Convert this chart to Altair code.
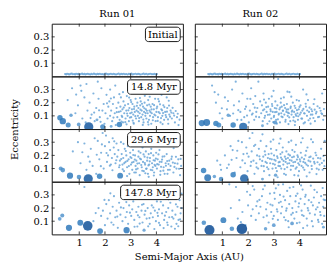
import altair as alt
import pandas as pd

FONT = "DejaVu Serif"
INK = "#1a1a1a"

RUNS = ["Run 01", "Run 02"]
TIMES = ["Initial", "14.8 Myr", "29.6 Myr", "147.8 Myr"]
X_TICKS = [1, 2, 3, 4]
Y_TICKS = [0.1, 0.2, 0.3]
SMALL_MASS = 0.02

# initial ring of planetesimals (semi-major axis, eccentricity)
INIT_A = [0.45, 0.49, 0.53, 0.58, 0.62, 0.66, 0.71, 0.75, 0.8, 0.84, 0.88, 0.93, 0.97, 1.02, 1.06,
          1.11, 1.15, 1.2, 1.24, 1.29, 1.33, 1.38, 1.43, 1.47, 1.52, 1.57, 1.61, 1.66, 1.71, 1.75,
          1.8, 1.85, 1.9, 1.94, 1.99, 2.04, 2.09, 2.14, 2.18, 2.23, 2.28, 2.33, 2.38, 2.43, 2.48,
          2.53, 2.58, 2.63, 2.68, 2.73, 2.78, 2.83, 2.88, 2.93, 2.98, 3.03, 3.08, 3.13, 3.19, 3.24,
          3.29, 3.34, 3.39, 3.45, 3.5, 3.55, 3.6, 3.66, 3.71, 3.76, 3.82, 3.87, 3.92, 3.97, 4.02]
INIT_E = [0.018, 0.015, 0.020, 0.017, 0.014, 0.019, 0.021, 0.016, 0.018, 0.015, 0.02, 0.017, 0.019,
          0.014, 0.018, 0.021, 0.016, 0.019, 0.015, 0.018, 0.02, 0.017, 0.014, 0.019, 0.016, 0.021,
          0.018, 0.015, 0.019, 0.017, 0.02, 0.016, 0.018, 0.014, 0.019, 0.021, 0.017, 0.015, 0.018,
          0.02, 0.016, 0.019, 0.017, 0.014, 0.018, 0.021, 0.015, 0.019, 0.017, 0.02, 0.016, 0.018,
          0.014, 0.019, 0.017, 0.021, 0.015, 0.018, 0.02, 0.016, 0.019, 0.017, 0.014, 0.018, 0.021,
          0.016, 0.019, 0.015, 0.018, 0.02, 0.017, 0.016, 0.019, 0.015, 0.018]

# small bodies (a, e)
R1_T15 = [(0.55,0.22),(0.72,0.31),(0.85,0.12),(0.95,0.18),(1.05,0.33),(1.08,0.29),(1.12,0.08),(1.2,0.24),
          (1.25,0.05),(1.32,0.14),(1.4,0.2),(1.48,0.11),(1.55,0.27),(1.6,0.06),(1.66,0.16),(1.72,0.36),
          (1.75,0.23),(1.8,0.09),(1.86,0.31),(1.9,0.14),(1.95,0.19),(1.98,0.04),(2.02,0.12),(2.06,0.26),
          (2.1,0.08),(2.13,0.17),(2.17,0.21),(2.2,0.1),(2.24,0.14),(2.28,0.06),(2.31,0.19),(2.35,0.24),
          (2.38,0.12),(2.42,0.03),(2.45,0.16),(2.48,0.09),(2.52,0.2),(2.54,0.13),(2.57,0.07),(2.6,0.17),
          (2.62,0.24),(2.65,0.1),(2.68,0.15),(2.7,0.05),(2.72,0.21),(2.75,0.12),(2.78,0.18),(2.8,0.08),
          (2.83,0.14),(2.85,0.25),(2.88,0.1),(2.9,0.19),(2.93,0.06),(2.95,0.16),(2.98,0.12),(3.0,0.22),
          (3.02,0.09),(3.05,0.15),(3.07,0.19),(3.1,0.11),(3.12,0.04),(3.14,0.17),(3.16,0.13),(3.19,0.23),
          (3.21,0.08),(3.23,0.14),(3.26,0.2),(3.28,0.1),(3.3,0.16),(3.32,0.06),(3.35,0.12),(3.37,0.18),
          (3.39,0.21),(3.41,0.09),(3.43,0.14),(3.46,0.11),(3.48,0.17),(3.5,0.05),(3.52,0.13),(3.54,0.2),
          (3.57,0.1),(3.59,0.15),(3.61,0.08),(3.64,0.18),(3.66,0.12),(3.68,0.22),(3.71,0.07),(3.73,0.14),
          (3.75,0.1),(3.78,0.17),(3.8,0.04),(3.82,0.12),(3.85,0.19),(3.87,0.09),(3.9,0.15),(3.92,0.11),
          (3.95,0.23),(3.97,0.06),(4.0,0.13),(4.03,0.17),(4.06,0.09),(4.1,0.21),(4.13,0.12),(4.16,0.05),
          (4.19,0.15),(4.23,0.1),(4.27,0.18),(4.3,0.07),(4.34,0.13),(4.38,0.09),(4.42,0.16),(4.46,0.04),
          (4.5,0.11),(4.55,0.14),(4.6,0.08),(4.66,0.12),(4.72,0.05),(4.8,0.09),(4.86,0.03),(2.4,0.33),
          (2.9,0.3),(3.3,0.28),(3.6,0.27),(4.2,0.26),(2.2,0.3),(3.9,0.3),(4.4,0.24),(2.7,0.28),
          (2.61,0.135),(2.67,0.092),(2.73,0.163),(2.79,0.052),(2.86,0.118),(2.91,0.142),(2.97,0.087),
          (3.04,0.125),(3.08,0.064),(3.13,0.152),(3.18,0.098),(3.24,0.176),(3.29,0.131),(3.33,0.083),
          (3.38,0.147),(3.44,0.192),(3.49,0.072),(3.53,0.158),(3.58,0.121),(3.63,0.139),(3.67,0.053),
          (3.72,0.186),(3.77,0.128),(3.81,0.149),(3.86,0.067),(3.91,0.181),(3.96,0.103),(4.01,0.157),
          (4.05,0.062),(4.09,0.129),(4.14,0.188),(4.18,0.083),(4.22,0.142),(4.26,0.121),(4.31,0.167),
          (4.36,0.106),(4.41,0.132),(4.45,0.073),(4.49,0.178),(4.53,0.094),(4.58,0.125),(4.63,0.161),
          (4.69,0.102),(4.75,0.137),(4.83,0.116),(4.9,0.071),(3.02,0.205),(3.36,0.236),(3.74,0.245),
          (4.07,0.228),(4.48,0.215),(2.56,0.265),(2.94,0.239),(3.55,0.252),(1.58,0.125),(1.83,0.055),
          (2.08,0.195),(2.33,0.087),(2.46,0.128),(2.23,0.232),(1.44,0.083),(1.77,0.142),(0.88,0.262),
          (1.28,0.342),(2.64,0.057),(3.11,0.047),(3.69,0.034),(4.24,0.038),(3.47,0.031),(2.84,0.036)]
R2_T15 = [(0.6,0.33),(0.7,0.28),(0.75,0.2),(0.9,0.12),(1.0,0.08),(1.1,0.24),(1.18,0.15),(1.3,0.1),
          (1.38,0.3),(1.45,0.18),(1.52,0.36),(1.58,0.07),(1.65,0.21),(1.7,0.13),(1.78,0.27),(1.85,0.09),
          (1.92,0.17),(1.97,0.23),(2.03,0.05),(2.07,0.14),(2.12,0.31),(2.15,0.11),(2.2,0.19),(2.24,0.07),
          (2.28,0.25),(2.32,0.13),(2.36,0.16),(2.4,0.36),(2.43,0.09),(2.47,0.21),(2.51,0.12),(2.54,0.18),
          (2.57,0.06),(2.6,0.27),(2.63,0.15),(2.66,0.1),(2.69,0.2),(2.72,0.13),(2.75,0.04),(2.78,0.17),
          (2.81,0.23),(2.84,0.11),(2.87,0.15),(2.9,0.08),(2.93,0.19),(2.96,0.13),(2.99,0.29),(3.01,0.1),
          (3.04,0.16),(3.06,0.21),(3.09,0.07),(3.11,0.13),(3.14,0.18),(3.17,0.38),(3.19,0.11),(3.22,0.15),
          (3.24,0.05),(3.27,0.2),(3.29,0.12),(3.31,0.17),(3.34,0.09),(3.36,0.14),(3.39,0.24),(3.41,0.11),
          (3.44,0.16),(3.46,0.07),(3.49,0.13),(3.51,0.19),(3.54,0.1),(3.56,0.15),(3.59,0.12),(3.61,0.28),
          (3.64,0.06),(3.66,0.17),(3.69,0.11),(3.72,0.14),(3.74,0.2),(3.77,0.09),(3.79,0.13),(3.82,0.03),
          (3.84,0.16),(3.87,0.1),(3.89,0.22),(3.92,0.12),(3.94,0.07),(3.97,0.15),(4.01,0.11),(4.04,0.18),
          (4.07,0.08),(4.11,0.14),(4.14,0.3),(4.18,0.12),(4.21,0.05),(4.25,0.17),(4.29,0.1),(4.33,0.22),
          (4.37,0.13),(4.41,0.08),(4.46,0.15),(4.5,0.11),(4.55,0.19),(4.6,0.06),(4.66,0.13),(4.72,0.09),
          (4.78,0.16),(4.85,0.12),(4.92,0.07),(4.88,0.27),
          (2.58,0.142),(2.64,0.085),(2.71,0.167),(2.77,0.108),(2.83,0.059),(2.88,0.136),(2.94,0.175),
          (3.0,0.091),(3.05,0.128),(3.1,0.156),(3.16,0.074),(3.2,0.118),(3.25,0.163),(3.3,0.095),
          (3.35,0.138),(3.4,0.181),(3.45,0.056),(3.5,0.147),(3.55,0.124),(3.6,0.089),(3.65,0.159),
          (3.7,0.132),(3.76,0.065),(3.81,0.176),(3.85,0.112),(3.9,0.143),(3.95,0.097),(4.0,0.168),
          (4.05,0.124),(4.1,0.079),(4.15,0.153),(4.2,0.118),(4.24,0.192),(4.3,0.141),(4.35,0.067),
          (4.39,0.162),(4.44,0.109),(4.49,0.135),(4.54,0.084),(4.59,0.147),(4.64,0.118),(4.7,0.173),
          (4.76,0.093),(4.82,0.139),(4.88,0.113),(4.95,0.152),(2.31,0.094),(2.26,0.162),(2.18,0.118),
          (2.09,0.229),(1.96,0.102),(1.88,0.152),(1.74,0.069),(1.62,0.143),(1.42,0.118),(1.22,0.213),
          (0.98,0.158),(0.84,0.262),(3.28,0.232),(3.68,0.246),(3.98,0.215),(4.58,0.226),(2.92,0.248),
          (3.53,0.284),(4.27,0.263),(2.62,0.224),(3.12,0.041),(3.57,0.038),(4.16,0.043),(2.98,0.052),
          (3.83,0.056),(4.43,0.041)]
R1_T30 = [(0.75,0.23),(0.95,0.3),(1.05,0.14),(1.2,0.29),(1.28,0.09),(1.35,0.19),(1.45,0.25),(1.52,0.12),
          (1.6,0.33),(1.66,0.06),(1.72,0.31),(1.78,0.17),(1.85,0.22),(1.91,0.37),(1.95,0.1),(2.0,0.27),
          (2.04,0.35),(2.08,0.15),(2.12,0.2),(2.16,0.3),(2.2,0.24),(2.23,0.13),(2.27,0.18),(2.3,0.33),
          (2.34,0.26),(2.38,0.21),(2.41,0.14),(2.45,0.29),(2.48,0.19),(2.52,0.24),(2.55,0.11),(2.58,0.16),
          (2.62,0.3),(2.65,0.21),(2.68,0.13),(2.71,0.18),(2.74,0.08),(2.77,0.25),(2.8,0.15),(2.83,0.2),
          (2.86,0.11),(2.89,0.27),(2.92,0.17),(2.95,0.06),(2.98,0.22),(3.01,0.13),(3.03,0.18),(3.06,0.09),
          (3.09,0.24),(3.11,0.15),(3.14,0.07),(3.17,0.2),(3.19,0.12),(3.22,0.16),(3.25,0.28),(3.27,0.1),
          (3.3,0.19),(3.33,0.14),(3.35,0.05),(3.38,0.22),(3.4,0.17),(3.43,0.11),(3.46,0.26),(3.48,0.15),
          (3.51,0.08),(3.54,0.19),(3.56,0.13),(3.59,0.23),(3.62,0.1),(3.64,0.16),(3.67,0.06),(3.7,0.21),
          (3.72,0.13),(3.75,0.18),(3.78,0.09),(3.8,0.25),(3.83,0.14),(3.86,0.11),(3.88,0.2),(3.91,0.07),
          (3.94,0.16),(3.96,0.12),(3.99,0.22),(4.02,0.1),(4.05,0.17),(4.09,0.13),(4.12,0.24),(4.16,0.08),
          (4.2,0.15),(4.24,0.19),(4.28,0.11),(4.32,0.06),(4.36,0.14),(4.4,0.21),(4.45,0.09),(4.5,0.16),
          (4.55,0.12),(4.6,0.19),(4.66,0.07),(4.72,0.14),(4.78,0.1),(4.85,0.17),(4.92,0.05),(4.96,0.12),
          (2.57,0.125),(2.63,0.172),(2.69,0.094),(2.75,0.141),(2.81,0.233),(2.87,0.158),(2.93,0.119),
          (2.99,0.187),(3.05,0.145),(3.1,0.203),(3.16,0.168),(3.21,0.094),(3.26,0.138),(3.31,0.231),
          (3.36,0.176),(3.41,0.127),(3.45,0.083),(3.5,0.207),(3.55,0.142),(3.6,0.098),(3.65,0.183),
          (3.69,0.124),(3.74,0.155),(3.79,0.217),(3.84,0.087),(3.89,0.163),(3.93,0.128),(3.98,0.176),
          (4.03,0.133),(4.08,0.207),(4.13,0.151),(4.18,0.113),(4.22,0.168),(4.27,0.084),(4.31,0.193),
          (4.37,0.121),(4.42,0.157),(4.47,0.134),(4.52,0.091),(4.58,0.172),(4.64,0.145),(4.7,0.112),
          (4.76,0.189),(4.82,0.137),(4.88,0.098),(4.94,0.173),(2.19,0.122),(2.29,0.087),(2.44,0.163),
          (2.06,0.218),(1.88,0.283),(1.68,0.205),(1.41,0.152),(1.12,0.224),(1.84,0.118),(2.36,0.307),
          (2.72,0.288),(3.08,0.303),(3.44,0.318),(3.87,0.286),(4.26,0.273),(4.67,0.254),(3.2,0.07),
          (3.57,0.064),(3.9,0.047),(4.15,0.052),(4.43,0.06),(2.86,0.043),(3.7,0.037)]
R2_T30 = [(0.8,0.16),(0.95,0.09),(1.1,0.2),(1.25,0.13),(1.32,0.27),(1.4,0.24),(1.48,0.07),(1.55,0.18),
          (1.62,0.31),(1.7,0.11),(1.76,0.3),(1.82,0.21),(1.88,0.14),(1.93,0.26),(1.98,0.08),(2.02,0.19),
          (2.06,0.33),(2.1,0.12),(2.14,0.23),(2.17,0.37),(2.21,0.16),(2.25,0.06),(2.28,0.28),(2.32,0.14),
          (2.35,0.2),(2.39,0.1),(2.42,0.25),(2.46,0.17),(2.49,0.31),(2.52,0.12),(2.56,0.36),(2.59,0.19),
          (2.62,0.08),(2.65,0.23),(2.68,0.15),(2.71,0.27),(2.74,0.11),(2.77,0.18),(2.8,0.21),(2.83,0.05),
          (2.86,0.14),(2.89,0.25),(2.92,0.17),(2.95,0.1),(2.98,0.32),(3.01,0.2),(3.04,0.13),(3.07,0.16),
          (3.1,0.24),(3.12,0.08),(3.15,0.18),(3.18,0.12),(3.21,0.29),(3.23,0.15),(3.26,0.21),(3.29,0.1),
          (3.32,0.17),(3.35,0.26),(3.37,0.13),(3.4,0.06),(3.43,0.19),(3.46,0.15),(3.49,0.23),(3.52,0.11),
          (3.55,0.18),(3.58,0.3),(3.6,0.14),(3.63,0.2),(3.66,0.09),(3.69,0.16),(3.72,0.24),(3.75,0.12),
          (3.78,0.19),(3.8,0.05),(3.83,0.15),(3.86,0.28),(3.89,0.11),(3.92,0.2),(3.95,0.14),(3.98,0.08),
          (4.01,0.17),(4.05,0.22),(4.08,0.12),(4.12,0.33),(4.15,0.15),(4.19,0.09),(4.23,0.2),(4.27,0.13),
          (4.31,0.26),(4.35,0.16),(4.39,0.07),(4.43,0.19),(4.47,0.12),(4.52,0.3),(4.57,0.15),(4.62,0.22),
          (4.67,0.1),(4.72,0.18),(4.78,0.13),(4.84,0.25),(4.9,0.09),(4.95,0.16),(4.98,0.31),
          (2.55,0.158),(2.61,0.118),(2.67,0.204),(2.73,0.142),(2.79,0.095),(2.85,0.174),(2.91,0.214),
          (2.97,0.136),(3.02,0.167),(3.08,0.104),(3.13,0.193),(3.19,0.147),(3.24,0.118),(3.28,0.183),
          (3.33,0.223),(3.38,0.158),(3.42,0.096),(3.47,0.173),(3.53,0.138),(3.57,0.207),(3.62,0.164),
          (3.67,0.121),(3.71,0.186),(3.76,0.148),(3.81,0.227),(3.85,0.099),(3.9,0.168),(3.94,0.187),
          (3.99,0.128),(4.03,0.155),(4.09,0.183),(4.14,0.107),(4.18,0.171),(4.22,0.143),(4.26,0.234),
          (4.33,0.121),(4.38,0.186),(4.42,0.153),(4.48,0.096),(4.53,0.176),(4.59,0.138),(4.65,0.201),
          (4.7,0.148),(4.75,0.092),(4.81,0.177),(4.87,0.142),(4.93,0.195),(4.97,0.118),(2.23,0.271),
          (2.44,0.193),(2.33,0.109),(2.12,0.151),(1.96,0.214),(1.78,0.162),(1.58,0.235),(1.36,0.166),
          (1.18,0.104),(0.92,0.128),(2.88,0.304),(3.26,0.327),(3.68,0.312),(4.06,0.298),(4.45,0.322),
          (3.47,0.052),(3.95,0.046),(4.28,0.041),(3.15,0.034),(4.66,0.058)]
R1_T148 = [(1.2,0.36),(1.55,0.1),(1.75,0.2),(1.85,0.14),(1.92,0.18),(2.0,0.07),(2.05,0.23),(2.1,0.12),
           (2.15,0.26),(2.2,0.16),(2.25,0.09),(2.3,0.21),(2.35,0.29),(2.4,0.13),(2.45,0.18),(2.5,0.05),
           (2.55,0.24),(2.6,0.15),(2.64,0.32),(2.68,0.1),(2.72,0.2),(2.76,0.27),(2.8,0.13),(2.85,0.17),
           (2.9,0.08),(2.94,0.22),(2.98,0.3),(3.02,0.14),(3.06,0.19),(3.1,0.25),(3.14,0.11),(3.18,0.33),
           (3.22,0.17),(3.26,0.06),(3.3,0.21),(3.34,0.13),(3.38,0.28),(3.42,0.18),(3.46,0.09),(3.5,0.23),
           (3.54,0.15),(3.58,0.35),(3.62,0.12),(3.66,0.2),(3.7,0.27),(3.74,0.08),(3.78,0.16),(3.82,0.22),
           (3.86,0.13),(3.9,0.3),(3.94,0.18),(3.98,0.1),(4.02,0.25),(4.06,0.14),(4.1,0.19),(4.14,0.07),
           (4.18,0.33),(4.22,0.16),(4.26,0.22),(4.3,0.11),(4.34,0.28),(4.38,0.17),(4.42,0.09),(4.46,0.2),
           (4.5,0.13),(4.54,0.24),(4.58,0.06),(4.62,0.18),(4.66,0.12),(4.7,0.3),(4.74,0.15),(4.78,0.08),
           (4.82,0.21),(4.86,0.11),(4.9,0.26),(4.94,0.16),(4.98,0.2),
           (2.48,0.135),(2.62,0.205),(2.83,0.245),(2.97,0.165),(3.12,0.288),(3.28,0.145),(3.44,0.225),
           (3.57,0.178),(3.73,0.124),(3.88,0.204),(4.04,0.164),(4.17,0.248),(4.33,0.142),(4.47,0.266),
           (4.61,0.132),(4.76,0.228),(4.92,0.115),(3.35,0.082),(3.68,0.061),(4.1,0.088),(4.44,0.071),
           (4.85,0.062),(2.21,0.312),(2.78,0.352),(3.52,0.302),(4.24,0.352),(4.65,0.348),(1.98,0.262),
           (1.64,0.162),(2.33,0.073),(3.92,0.041),(4.28,0.048),(4.72,0.043),(3.15,0.058),(3.81,0.287),
           (4.98,0.31)]
R2_T148 = [(1.27,0.38),(1.33,0.2),(1.53,0.36),(1.6,0.12),(1.66,0.26),(1.78,0.17),(1.9,0.07),(2.0,0.22),
           (2.08,0.3),(2.12,0.14),(2.18,0.19),(2.24,0.34),(2.3,0.11),(2.36,0.25),(2.42,0.16),(2.48,0.21),
           (2.54,0.29),(2.6,0.13),(2.65,0.37),(2.7,0.19),(2.75,0.24),(2.8,0.09),(2.85,0.31),(2.9,0.17),
           (2.95,0.22),(3.0,0.14),(3.04,0.27),(3.08,0.35),(3.12,0.19),(3.16,0.11),(3.2,0.24),(3.24,0.3),
           (3.28,0.16),(3.32,0.21),(3.36,0.38),(3.4,0.13),(3.44,0.26),(3.48,0.18),(3.52,0.33),(3.56,0.1),
           (3.6,0.23),(3.64,0.29),(3.68,0.15),(3.72,0.2),(3.76,0.36),(3.8,0.12),(3.84,0.25),(3.88,0.17),
           (3.92,0.31),(3.96,0.21),(4.0,0.09),(4.04,0.27),(4.08,0.18),(4.12,0.34),(4.16,0.14),(4.2,0.23),
           (4.24,0.3),(4.28,0.12),(4.32,0.2),(4.36,0.26),(4.4,0.16),(4.44,0.37),(4.48,0.1),(4.52,0.22),
           (4.56,0.28),(4.6,0.15),(4.64,0.19),(4.68,0.32),(4.72,0.11),(4.76,0.24),(4.8,0.17),(4.84,0.29),
           (4.88,0.08),(4.92,0.21),(4.96,0.14),(4.99,0.26),
           (2.44,0.262),(2.58,0.343),(2.73,0.142),(2.87,0.227),(3.02,0.315),(3.14,0.173),(3.27,0.248),
           (3.38,0.287),(3.5,0.197),(3.62,0.354),(3.74,0.163),(3.86,0.292),(3.98,0.236),(4.1,0.147),
           (4.22,0.286),(4.34,0.182),(4.46,0.244),(4.58,0.338),(4.7,0.206),(4.82,0.146),(4.94,0.264),
           (3.46,0.108),(3.9,0.085),(4.3,0.067),(4.74,0.094),(2.96,0.118),(2.32,0.215),(1.96,0.324),
           (1.72,0.093),(2.18,0.367),(3.18,0.376),(4.06,0.372),(4.9,0.352),(3.58,0.054),(4.14,0.048),
           (4.52,0.061)]

# embryos / planets (a, e, mass)
BIG_R1_T15 = [(0.25,0.085,0.3),(0.36,0.06,0.42),(0.57,0.03,0.25),(0.68,0.105,0.1),(0.98,0.035,0.12),
              (1.37,0.017,0.9),(1.69,0.07,0.06),(1.91,0.017,0.25),(2.24,0.02,0.06),(2.56,0.035,0.3)]
BIG_R2_T15 = [(0.2,0.045,0.4),(0.39,0.05,0.5),(0.75,0.043,0.3),(0.86,0.03,0.25),(1.23,0.105,0.1),
              (1.42,0.03,0.3),(1.81,0.017,0.7),(2.56,0.025,0.06),(3.05,0.05,0.15)]
BIG_R1_T30 = [(0.28,0.1,0.15),(0.36,0.088,0.2),(0.64,0.046,0.4),(0.99,0.036,0.2),(1.35,0.022,0.9),
              (1.79,0.042,0.3),(2.59,0.046,0.35)]
BIG_R2_T30 = [(0.27,0.085,0.3),(0.43,0.03,0.5),(0.69,0.04,0.1),(0.95,0.02,0.2),(1.42,0.053,0.3),
              (1.85,0.025,0.75),(2.56,0.02,0.06),(3.07,0.05,0.1)]
BIG_R1_T148 = [(0.24,0.118,0.12),(0.34,0.143,0.15),(0.6,0.05,0.4),(1.04,0.088,0.35),(1.33,0.065,1.0),
               (1.81,0.025,0.35),(2.84,0.032,0.4),(3.52,0.032,0.08)]
BIG_R2_T148 = [(0.28,0.088,0.2),(0.5,0.033,1.1),(1.04,0.108,0.35),(1.37,0.043,0.2),(1.76,0.043,1.2),
               (2.68,0.043,0.1),(3.0,0.07,0.12),(3.71,0.083,0.12),(4.93,0.055,0.06)]

LABEL_BOX_W = {"Initial": 35, "14.8 Myr": 53, "29.6 Myr": 53, "147.8 Myr": 60}

W, H = 132, 53
XS = alt.Scale(domain=[-0.07, 5.03], nice=False, zero=False)
YS = alt.Scale(domain=[0, 0.4], nice=False, zero=False)
SIZE = alt.Scale(domain=[0, 1.2], range=[3, 112])
COLOR = alt.Scale(domain=[0, 0.3, 1.2], range=["#6ea9da", "#3580c0", "#08468f"])


def frame(small, big):
    rows = [{"a": a, "e": e, "m": SMALL_MASS} for a, e in small]
    rows += [{"a": a, "e": e, "m": m} for a, e, m in big]
    return pd.DataFrame(rows)


PANELS = {
    (0, 0): frame(list(zip(INIT_A, INIT_E)), []),
    (0, 1): frame(list(zip(INIT_A, INIT_E)), []),
    (1, 0): frame(R1_T15, BIG_R1_T15),
    (1, 1): frame(R2_T15, BIG_R2_T15),
    (2, 0): frame(R1_T30, BIG_R1_T30),
    (2, 1): frame(R2_T30, BIG_R2_T30),
    (3, 0): frame(R1_T148, BIG_R1_T148),
    (3, 1): frame(R2_T148, BIG_R2_T148),
}


def panel(row, col):
    df = PANELS[(row, col)]
    if row == 3:
        xaxis = alt.Axis(values=X_TICKS, ticks=False, domain=False, grid=False, labelPadding=3,
                         title=("Semi-Major Axis (AU)" if col == 0 else None),
                         titleX=(W + 12 + W) / 2, titlePadding=4)
    else:
        xaxis = None
    if col == 0:
        yaxis = alt.Axis(values=Y_TICKS, ticks=False, domain=False, grid=False, labelPadding=3,
                         format=".1f", title=("Eccentricity" if row == 1 else None),
                         titleY=H, titlePadding=14)
    else:
        yaxis = None

    xenc = alt.X("a:Q", scale=XS, axis=xaxis)
    yenc = alt.Y("e:Q", scale=YS, axis=yaxis)
    pts = alt.Chart(df).mark_circle(clip=True, opacity=0.85).encode(
        x=xenc,
        y=yenc,
        size=alt.Size("m:Q", scale=SIZE, legend=None),
        color=alt.Color("m:Q", scale=COLOR, legend=None),
    )
    xt = alt.Chart(pd.DataFrame({"a": X_TICKS}))
    yt = alt.Chart(pd.DataFrame({"e": Y_TICKS}))
    t_bot = xt.mark_rule(color=INK, strokeWidth=0.8).encode(x=xenc, y=alt.value(H), y2=alt.value(H - 3))
    t_top = xt.mark_rule(color=INK, strokeWidth=0.8).encode(x=xenc, y=alt.value(0), y2=alt.value(3))
    t_lft = yt.mark_rule(color=INK, strokeWidth=0.8).encode(y=yenc, x=alt.value(0), x2=alt.value(3))
    t_rgt = yt.mark_rule(color=INK, strokeWidth=0.8).encode(y=yenc, x=alt.value(W - 3), x2=alt.value(W))
    layers = [pts, t_bot, t_top, t_lft, t_rgt]

    if col == 0:
        label = TIMES[row]
        bw = LABEL_BOX_W[label]
        lab = alt.Chart(pd.DataFrame({"t": [label]}))
        box = lab.mark_rect(fill="white", stroke=INK, strokeWidth=1, cornerRadius=3).encode(
            x=alt.value(W - 2.7 - bw), x2=alt.value(W - 2.7), y=alt.value(3.5), y2=alt.value(18))
        txt = lab.mark_text(font=FONT, fontSize=10, color="black", baseline="middle").encode(
            x=alt.value(W - 2.7 - bw / 2), y=alt.value(11), text="t:N")
        layers += [box, txt]

    props = dict(width=W, height=H)
    if row == 0:
        props["title"] = alt.TitleParams(RUNS[col], font=FONT, fontSize=10, fontWeight="normal",
                                         color="black", offset=4, frame="group")
    return alt.layer(*layers).properties(**props)


charts = [panel(r, c) for r in range(4) for c in range(2)]
chart = alt.concat(*charts, columns=2, spacing={"row": 0, "column": 12}, bounds="flush").properties(
    padding={"left": 0, "top": 0, "right": 0, "bottom": 0}
).configure_view(stroke=INK, strokeWidth=1).configure_axis(
    labelFont=FONT, titleFont=FONT, labelFontSize=10, titleFontSize=10,
    labelColor="black", titleColor="black", titleFontWeight="normal"
)

chart.save("out.html", embed_options={"renderer": "svg", "actions": False})
